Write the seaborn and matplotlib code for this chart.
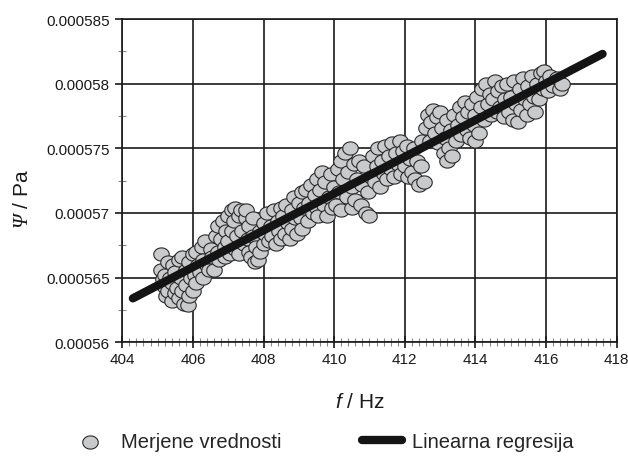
import numpy as np
import pandas as pd
import seaborn as sns
import matplotlib.pyplot as plt
from matplotlib.ticker import MultipleLocator, FuncFormatter

freq_hz = [
    405.1, 405.1, 405.15, 405.2, 405.2, 405.25, 405.3, 405.3, 405.35, 405.4,
    405.4, 405.45, 405.5, 405.5, 405.55, 405.6, 405.6, 405.65, 405.7, 405.7,
    405.75, 405.8, 405.8, 405.85, 405.9, 405.9, 405.95, 406.0, 406.0,
    406.05, 406.1, 406.1, 406.15, 406.2, 406.25, 406.3, 406.3, 406.35, 406.4,
    406.45, 406.5, 406.55, 406.6,
    406.65, 406.7, 406.7, 406.75, 406.8, 406.85, 406.9, 406.9, 406.95, 407.0,
    407.0, 407.05, 407.1, 407.1, 407.15, 407.2, 407.2, 407.25, 407.3, 407.3,
    407.35, 407.4, 407.45, 407.5, 407.5, 407.55, 407.6, 407.6, 407.65, 407.7,
    407.7, 407.75, 407.8, 407.85, 407.9, 407.9,
    408.0, 408.0, 408.05, 408.1, 408.15, 408.2, 408.25, 408.3, 408.35, 408.4,
    408.45, 408.5, 408.5, 408.55, 408.6, 408.65, 408.7, 408.75, 408.8, 408.8,
    408.85, 408.9, 408.95,
    409.0, 409.05, 409.1, 409.1, 409.15, 409.2, 409.25, 409.3, 409.35, 409.4,
    409.45, 409.5, 409.5, 409.55, 409.6, 409.65, 409.7, 409.75, 409.8, 409.85,
    409.9, 409.95, 410.0,
    410.05, 410.1, 410.15, 410.2, 410.2, 410.25, 410.3, 410.35, 410.4, 410.45,
    410.5, 410.5, 410.55, 410.6, 410.65, 410.7, 410.75, 410.8, 410.85, 410.9,
    410.95, 411.0, 411.05,
    411.1, 411.15, 411.2, 411.25, 411.3, 411.35, 411.4, 411.45, 411.5, 411.55,
    411.6, 411.65, 411.7, 411.75, 411.8, 411.85, 411.9, 411.95, 412.0,
    412.05, 412.1, 412.15, 412.2, 412.25, 412.3, 412.35, 412.4, 412.45, 412.5,
    412.55,
    412.6, 412.65, 412.7, 412.75, 412.8, 412.85, 412.9, 412.95, 413.0, 413.05,
    413.1, 413.15, 413.2, 413.2, 413.25, 413.3, 413.35, 413.4, 413.45, 413.5,
    413.55, 413.6, 413.65, 413.7, 413.75, 413.8, 413.85, 413.9, 413.95, 414.0,
    414.0, 414.05, 414.1, 414.15,
    414.2, 414.25, 414.3, 414.35, 414.4, 414.45, 414.5, 414.55, 414.6, 414.65,
    414.7, 414.75, 414.8, 414.85, 414.9, 414.95,
    415.0, 415.05, 415.1, 415.15, 415.2, 415.25, 415.3, 415.35, 415.4, 415.45,
    415.5, 415.55, 415.6, 415.65, 415.7, 415.75, 415.8,
    415.85, 415.9, 415.95, 416.0, 416.05, 416.1, 416.2, 416.3, 416.4, 416.45,
]
psi_upa = [
    566.8, 565.6, 564.9, 564.3, 565.2, 563.6, 564.0, 566.2, 565.0, 563.2,
    564.6, 566.0, 563.8, 565.4, 564.2, 566.4, 563.4, 565.0, 564.0, 566.6,
    563.0, 565.6, 564.4, 562.9, 563.6, 566.2, 565.0, 564.0, 566.8,
    565.2, 567.0, 564.6, 566.0, 565.4, 567.4, 566.4, 565.0, 567.8, 566.0,
    565.6, 567.2, 566.6, 565.6,
    568.2, 567.0, 569.0, 566.4, 568.0, 569.4, 567.4, 566.6, 568.6, 569.8,
    567.8, 566.8, 570.2, 568.6, 569.4, 567.2, 570.4, 568.2, 569.8, 566.8,
    570.2, 568.6, 567.6, 569.6, 570.2, 568.0, 569.0, 567.0, 566.6, 568.2,
    569.6, 566.2, 567.4, 566.4, 568.6, 567.0,
    569.2, 567.6, 568.4, 570.0, 567.8, 569.0, 568.2, 570.2, 567.6, 569.4,
    568.6, 570.4, 568.0, 569.8, 568.4, 570.6, 569.2, 568.0, 570.2, 568.8,
    571.2, 569.6, 568.4,
    570.8, 569.6, 571.6, 568.8, 570.4, 571.8, 569.4, 570.8, 572.2, 570.0,
    571.4, 572.6, 570.4, 569.8, 571.8, 573.2, 570.6, 572.4, 569.8, 571.2,
    573.0, 570.4, 572.0,
    570.6, 573.4, 571.6, 574.0, 570.2, 572.6, 574.6, 571.2, 573.2, 575.0,
    572.0, 570.4, 573.8, 571.0, 572.6, 574.0, 570.6, 572.2, 573.6, 570.0,
    571.6, 569.8, 572.8,
    574.4, 572.4, 573.6, 575.0, 572.0, 574.0, 573.0, 575.2, 572.6, 574.4,
    573.4, 575.4, 572.8, 574.6, 573.8, 575.6, 573.0, 574.8, 573.6,
    575.2, 572.8, 574.2, 573.2, 575.0, 572.6, 574.0, 572.2, 573.6, 575.6,
    572.4,
    576.6, 577.6, 575.6, 577.0, 578.0, 576.2, 577.4, 575.4, 577.8, 576.6,
    574.6, 575.8, 574.0, 577.2, 575.0, 576.4, 574.4, 577.6, 575.6, 576.8,
    578.2, 576.0, 577.4, 578.6, 576.4, 577.8, 575.8, 578.4, 576.8, 575.6,
    577.6, 579.0, 576.2, 578.2,
    579.6, 577.2, 580.0, 578.4, 579.2, 577.6, 578.8, 580.2, 577.8, 579.4,
    578.2, 579.8, 577.4, 578.8, 580.0, 577.8,
    579.0, 577.2, 580.2, 578.4, 577.0, 579.6, 578.0, 580.4, 578.8, 577.6,
    579.8, 578.4, 580.6, 579.0, 577.8, 580.0, 578.8,
    580.8, 579.6, 581.0, 580.2, 579.4, 580.6, 579.8, 580.4, 579.6, 580.0,
]

# linear regression end points
fit_hz = [404.3, 417.6]
fit_upa = [563.4, 582.3]

sns.set_style("ticks")
plt.rcParams["font.family"] = ["Liberation Sans", "DejaVu Sans"]
plt.rcParams["mathtext.fontset"] = "custom"
plt.rcParams["mathtext.rm"] = "Liberation Sans"
plt.rcParams["mathtext.it"] = "Liberation Sans:italic"
plt.rcParams["mathtext.cal"] = "Liberation Serif:italic"

measured = pd.DataFrame({"f": freq_hz, "psi": np.array(psi_upa) * 1e-6})
fit = pd.DataFrame({"f": fit_hz, "psi": np.array(fit_upa) * 1e-6})

fig, ax = plt.subplots(figsize=(6.28, 4.60), dpi=100)
fig.subplots_adjust(left=0.1947, right=0.982, top=0.9565, bottom=0.2537)

t = np.linspace(0, 2 * np.pi, 40)
ellipse = list(zip(np.cos(t), 0.85 * np.sin(t)))

sns.scatterplot(
    data=measured, x="f", y="psi", marker=ellipse, s=125,
    color="#c9cacc", edgecolor="#2a2a2a", linewidth=0.8,
    label="Merjene vrednosti", ax=ax, zorder=3,
)
sns.lineplot(
    data=fit, x="f", y="psi", color="#141414", linewidth=6,
    solid_capstyle="round", label="Linearna regresija", ax=ax, zorder=4,
)

ax.set_xlim(404, 418)
ax.set_ylim(0.00056, 0.000585)
ax.xaxis.set_major_locator(MultipleLocator(2))
ax.xaxis.set_minor_locator(MultipleLocator(0.2))
ax.yaxis.set_major_locator(MultipleLocator(0.000005))
ax.yaxis.set_minor_locator(MultipleLocator(0.0000025))
ax.yaxis.set_major_formatter(FuncFormatter(lambda v, p: f"{v:.6f}".rstrip("0")))

ax.grid(True, which="major", color="#1a1a1a", linewidth=1.2)
ax.set_axisbelow(True)
for sp in ax.spines.values():
    sp.set_color("#1a1a1a")
    sp.set_linewidth(1.2)

ax.tick_params(axis="x", which="major", direction="inout", length=8, width=1.2,
               color="#1a1a1a", labelsize=11, pad=3, labelcolor="#1a1a1a")
ax.tick_params(axis="x", which="minor", direction="inout", length=6, width=0.8,
               color="#8a8a8a")
ax.tick_params(axis="y", which="major", direction="out", length=5, width=1.2,
               color="#1a1a1a", labelsize=11, pad=4, labelcolor="#1a1a1a")
ax.tick_params(axis="y", which="minor", direction="inout", length=6, width=0.8,
               color="#8a8a8a")

ax.set_xlabel(r"$\mathit{f}$ / Hz", fontsize=15, color="#1a1a1a")
ax.set_ylabel(r"$\mathcal{Ψ}$ / Pa", fontsize=15, color="#1a1a1a")
ax.xaxis.set_label_coords(0.481, -0.155)
ax.yaxis.set_label_coords(-0.183, 0.446)

handles, labels = ax.get_legend_handles_labels()
if ax.get_legend() is not None:
    ax.get_legend().remove()
fig.legend(handles, labels, loc="center", bbox_to_anchor=(322 / 628, 1 - 443 / 460),
           ncol=2, frameon=False, fontsize=14.5, handlelength=2.0,
           handletextpad=0.5, columnspacing=4.0)

fig.savefig("out.png", dpi=100)
